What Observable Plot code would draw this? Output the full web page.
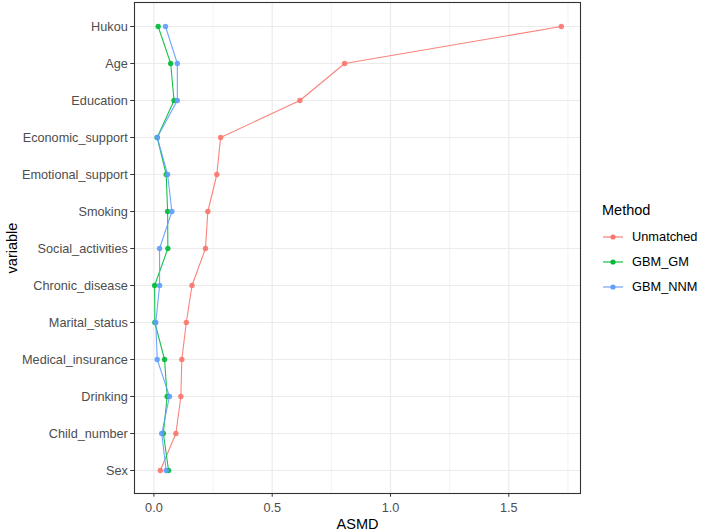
<!DOCTYPE html>
<html>
<head>
<meta charset="utf-8">
<script src="https://cdn.jsdelivr.net/npm/d3@7"></script>
<script src="https://cdn.jsdelivr.net/npm/@observablehq/plot@0.6"></script>
<style>
  body { margin: 0; background: #fff; font-family: "Liberation Sans", Arial, sans-serif; }
  #wrap { position: relative; width: 702px; height: 532px; }
  #legend { position: absolute; left: 602px; top: 202px; font-size: 12.8px; color: #000; }
  #legend .title { font-size: 14.5px; margin-bottom: 6px; }
  #legend .item { display: flex; align-items: center; height: 25px; }
  #legend svg { margin-right: 8px; }
</style>
</head>
<body>
<div id="wrap"><div id="legend"></div></div>
<script>
const variables = ["Hukou","Age","Education","Economic_support","Emotional_support","Smoking","Social_activities","Chronic_disease","Marital_status","Medical_insurance","Drinking","Child_number","Sex"];
const methods = ["Unmatched","GBM_GM","GBM_NNM"];
const colors = ["#F8766D","#00BA38","#619CFF"];
const unmatched = [1.722,0.806,0.617,0.282,0.266,0.228,0.218,0.161,0.137,0.118,0.114,0.093,0.027];
const gbmGM     = [0.018,0.071,0.085,0.014,0.052,0.058,0.059,0.003,0.004,0.045,0.056,0.040,0.062];
const gbmNNM    = [0.049,0.099,0.099,0.014,0.058,0.076,0.024,0.024,0.008,0.014,0.066,0.033,0.052];
const xTicks = [0, 0.5, 1, 1.5];
const xMinor = [0.25, 0.75, 1.25, 1.75];

const series = [unmatched, gbmGM, gbmNNM];
const data = [];
methods.forEach((m, i) => variables.forEach((v, j) => data.push({method: m, variable: v, asmd: series[i][j]})));

const chart = Plot.plot({
  width: 702, height: 532,
  marginLeft: 134, marginRight: 122, marginTop: 2, marginBottom: 39,
  style: {fontFamily: '"Liberation Sans", Arial, sans-serif', fontSize: "12.7px", background: "#fff"},
  x: {domain: [-0.082, 1.803]},
  y: {type: "point", domain: variables, padding: 0.59},
  color: {domain: methods, range: colors},
  marks: [
    Plot.gridX(xMinor, {stroke: "#EBEBEB", strokeOpacity: 1, strokeWidth: 0.6}),
    Plot.gridX(xTicks, {stroke: "#EBEBEB", strokeOpacity: 1, strokeWidth: 1.2}),
    Plot.gridY(variables, {stroke: "#EBEBEB", strokeOpacity: 1, strokeWidth: 1.2}),
    Plot.line(data, {x: "asmd", y: "variable", z: "method", stroke: "method", strokeWidth: 1.1, strokeOpacity: 0.9}),
    Plot.dot(data, {x: "asmd", y: "variable", fill: "method", r: 2.7, fillOpacity: 0.9}),
    Plot.frame({stroke: "#333333", strokeWidth: 1.1}),
    Plot.axisX(xTicks, {tickSize: 3.7, tickPadding: 6, stroke: "#333333", color: "#4D4D4D", fontSize: 12.7,
      tickFormat: d3.format(".1f"), label: "ASMD", labelAnchor: "center", labelArrow: "none", labelOffset: 35}),
    Plot.axisY(variables, {tickSize: 3.7, tickPadding: 3, stroke: "#333333", color: "#4D4D4D", fontSize: 12.7,
      label: null}),
    Plot.axisY({ticks: [], tickSize: 0, label: "variable", labelAnchor: "center", labelArrow: "none", labelOffset: 128, fontSize: 14.5, color: "#000"})
  ]
});
chart.querySelectorAll('[aria-label="x-axis label"] text, [aria-label="x-axis label"]').forEach(e => { e.style.fontSize = "14.5px"; e.setAttribute("fill", "#000"); });
document.getElementById("wrap").prepend(chart);

const legend = document.getElementById("legend");
legend.innerHTML = `<div class="title">Method</div>` + methods.map((m, i) =>
  `<div class="item"><svg width="22" height="10"><line x1="1" x2="21" y1="5" y2="5" stroke="${colors[i]}" stroke-width="1.1"/><circle cx="11" cy="5" r="2.6" fill="${colors[i]}"/></svg><span>${m}</span></div>`).join("");
</script>
</body>
</html>
